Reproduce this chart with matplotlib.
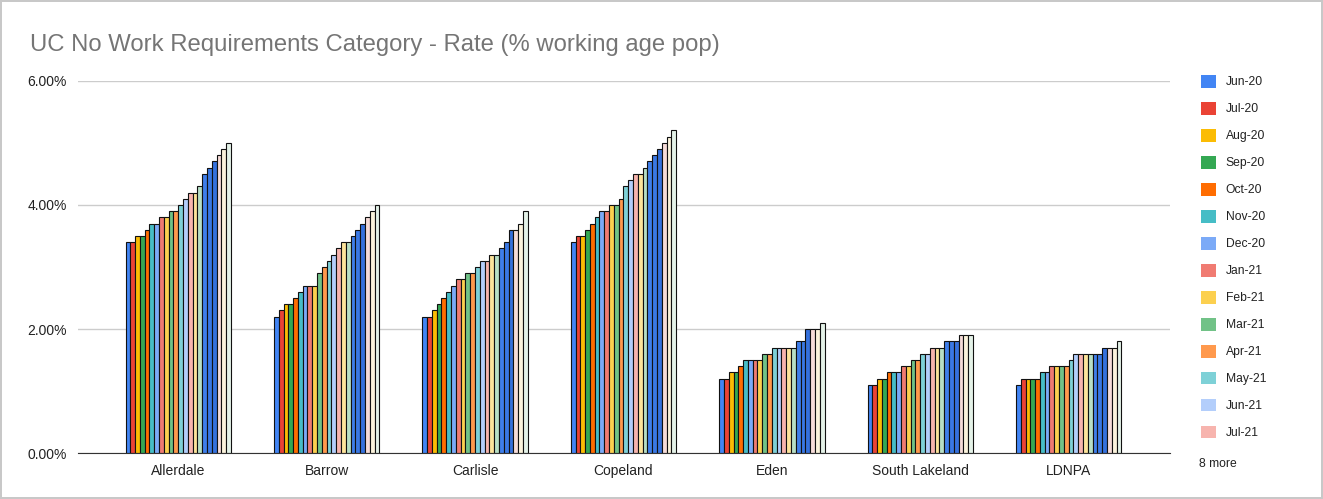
import numpy as np
import matplotlib.pyplot as plt
from matplotlib.patches import Patch
from matplotlib.ticker import FuncFormatter

plt.rcParams['font.family'] = ['Liberation Sans', 'DejaVu Sans']

areas = ['Allerdale', 'Barrow', 'Carlisle', 'Copeland', 'Eden', 'South Lakeland', 'LDNPA']
months = ['Jun-20', 'Jul-20', 'Aug-20', 'Sep-20', 'Oct-20', 'Nov-20', 'Dec-20', 'Jan-21',
          'Feb-21', 'Mar-21', 'Apr-21', 'May-21', 'Jun-21', 'Jul-21', 'Aug-21', 'Sep-21',
          'Oct-21', 'Nov-21', 'Dec-21', 'Jan-22', 'Feb-22', 'Mar-22']

# rate (% of working age pop), one list per area, month order as above
allerdale = [3.4, 3.4, 3.5, 3.5, 3.6, 3.7, 3.7, 3.8, 3.8, 3.9, 3.9, 4.0, 4.1, 4.2, 4.2, 4.3, 4.5, 4.6, 4.7, 4.8, 4.9, 5.0]
barrow = [2.2, 2.3, 2.4, 2.4, 2.5, 2.6, 2.7, 2.7, 2.7, 2.9, 3.0, 3.1, 3.2, 3.3, 3.4, 3.4, 3.5, 3.6, 3.7, 3.8, 3.9, 4.0]
carlisle = [2.2, 2.2, 2.3, 2.4, 2.5, 2.6, 2.7, 2.8, 2.8, 2.9, 2.9, 3.0, 3.1, 3.1, 3.2, 3.2, 3.3, 3.4, 3.6, 3.6, 3.7, 3.9]
copeland = [3.4, 3.5, 3.5, 3.6, 3.7, 3.8, 3.9, 3.9, 4.0, 4.0, 4.1, 4.3, 4.4, 4.5, 4.5, 4.6, 4.7, 4.8, 4.9, 5.0, 5.1, 5.2]
eden = [1.2, 1.2, 1.3, 1.3, 1.4, 1.5, 1.5, 1.5, 1.5, 1.6, 1.6, 1.7, 1.7, 1.7, 1.7, 1.7, 1.8, 1.8, 2.0, 2.0, 2.0, 2.1]
south_lakeland = [1.1, 1.1, 1.2, 1.2, 1.3, 1.3, 1.3, 1.4, 1.4, 1.5, 1.5, 1.6, 1.6, 1.7, 1.7, 1.7, 1.8, 1.8, 1.8, 1.9, 1.9, 1.9]
ldnpa = [1.1, 1.2, 1.2, 1.2, 1.2, 1.3, 1.3, 1.4, 1.4, 1.4, 1.4, 1.5, 1.6, 1.6, 1.6, 1.6, 1.6, 1.6, 1.7, 1.7, 1.7, 1.8]

colors = ['#4285F4', '#EA4335', '#FBBC04', '#34A853', '#FF6D01', '#46BDC6', '#7BAAF7', '#F07B72',
          '#FCD04F', '#71C287', '#FF994D', '#7ED1D7', '#B3CEFB', '#F7B4AE', '#FDE49B', '#B8DFC5',
          '#3F7EEA', '#3A78E4', '#3571DD', '#F6DCD8', '#FBF3DC', '#E4F2E8']

rates = np.array([allerdale, barrow, carlisle, copeland, eden, south_lakeland, ldnpa])

fig = plt.figure(figsize=(13.23, 4.99), dpi=100)
fig.patch.set_edgecolor('#c8c8c8')
fig.patch.set_linewidth(1.5)
ax = fig.add_axes([0.059, 0.092, 0.825, 0.746])

x = np.arange(len(areas))
w = 0.71 / len(months)
for i, m in enumerate(months):
    offs = (i - (len(months) - 1) / 2) * w
    ax.bar(x + offs, rates[:, i], w, color=colors[i], edgecolor='#111111', linewidth=0.8,
           label=m, zorder=3)

ax.set_xlim(-0.675, 6.68)
ax.set_ylim(0, 6)
ax.set_yticks([0, 2, 4, 6])
ax.yaxis.set_major_formatter(FuncFormatter(lambda v, p: f'{v:.2f}%'))
ax.set_xticks(x)
ax.set_xticklabels(areas)
ax.tick_params(length=0, labelsize=10, colors='#222222')
ax.tick_params(axis='x', pad=8)
ax.tick_params(axis='y', pad=8)
ax.grid(axis='y', color='#cccccc', linewidth=1, zorder=0)
for s in ['top', 'right', 'left']:
    ax.spines[s].set_visible(False)
ax.spines['bottom'].set_color('#333333')
ax.spines['bottom'].set_zorder(4)

fig.text(30 / 1323, 1 - 45 / 499, 'UC No Work Requirements Category - Rate (% working age pop)',
         fontsize=17.2, color='#757575', va='center', ha='left')

# legend: first 14 months, the rest summarised
handles = [Patch(facecolor=colors[i], edgecolor='none', label=months[i]) for i in range(14)]
fig.legend(handles=handles, loc='upper left', bbox_to_anchor=(1190 / 1323, 1 - 64 / 499),
           frameon=False, fontsize=8.7, handlelength=1.25, handleheight=1.25,
           labelspacing=1.12, handletextpad=0.8, labelcolor='#222222')
fig.text(1199 / 1323, 1 - 464 / 499, '8 more', fontsize=8.7, color='#222222', va='center')

fig.savefig('out.png', dpi=100)
